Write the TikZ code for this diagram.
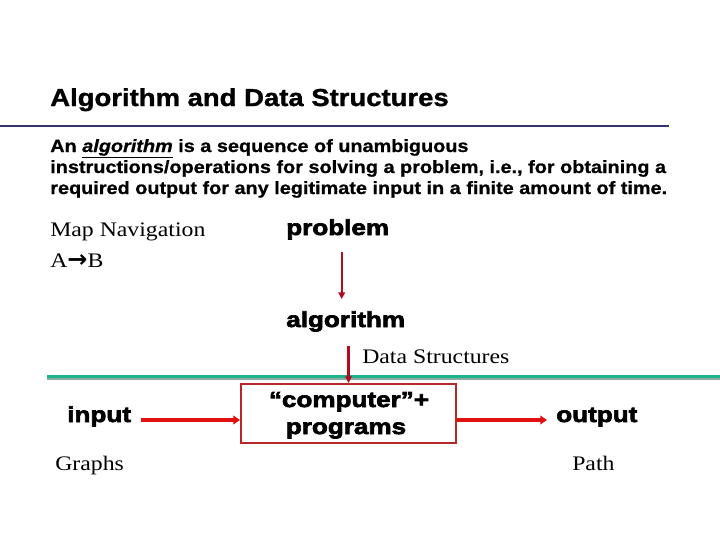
\documentclass[tikz,border=0pt]{standalone}
\usepackage{fontspec}
\usetikzlibrary{calc,arrows.meta}
\newfontfamily\ttl{Liberation Sans}[FakeStretch=1.12,FakeBold=1.2]
\newfontfamily\para{Liberation Sans}[FakeStretch=1.12,FakeBold=0.8]
\newfontfamily\heavy{Liberation Sans}[FakeStretch=1.2,FakeBold=3]
\newfontfamily\ser{Liberation Serif}[FakeStretch=1.15]
\newfontfamily\dv{DejaVu Sans}
\definecolor{navy}{RGB}{51,51,110}
\definecolor{teal}{RGB}{28,180,140}
\definecolor{tealgray}{RGB}{140,170,160}
\definecolor{arrred}{RGB}{225,15,15}
\definecolor{darkred}{RGB}{180,10,30}
\definecolor{boxred}{RGB}{185,40,40}
\begin{document}
\begin{tikzpicture}[x=0.75pt,y=-0.75pt,
  txt/.style={inner sep=0pt,anchor=base west},
  ctxt/.style={inner sep=0pt,anchor=base},
  titlefont/.style={font=\ttl\bfseries\fontsize{18.4}{20}\selectfont},
  parafont/.style={font=\para\bfseries\fontsize{13.3}{15.75}\selectfont},
  heavyfont/.style={font=\heavy\bfseries\fontsize{16.3}{18}\selectfont},
  serfont/.style={font=\ser\fontsize{15.5}{18}\selectfont},
  harrow/.style={arrred,line width=2.8pt,-{Triangle[length=5pt,width=6.5pt]}},
  varrow/.style={darkred,line width=1.6pt,-{Triangle[length=5pt,width=5pt]}},
  procbox/.style={draw=boxred,line width=1.5pt,minimum width=161.25pt,minimum height=44.25pt,inner sep=0pt}
]
\useasboundingbox (0,0) rectangle (720,540);
\fill[white] (0,0) rectangle (720,540);

% title
\node[txt,titlefont] (title) at (50,106) {Algorithm and Data Structures};
\draw[navy,line width=1.5pt] (0,125.5) -- (669,125.5);

% paragraph
\node[txt,parafont] (p1) at (50,152) {An \underline{\textit{algorithm}} is a sequence of unambiguous};
\node[txt,parafont] (p2) at (50,173) {instructions/operations for solving a problem, i.e., for obtaining a};
\node[txt,parafont] (p3) at (50,194) {required output for any legitimate input in a finite amount of time.};

% left labels
\node[txt,serfont] (map) at (50,236) {Map Navigation};
\node[txt,serfont] (ab) at (50,267) {A{\dv\bfseries\fontsize{18}{18}\selectfont →}B};

% flow
\node[txt,heavyfont] (problem) at (286,235) {problem};
\node[txt,heavyfont] (algorithm) at (286,327) {algorithm};
\node[txt,serfont] (ds) at (362,363) {Data Structures};

% green rule
\draw[teal,line width=1.9pt] (47,376.7) -- (720,376.7);
\draw[tealgray,line width=1.4pt] (47,379.4) -- (720,379.4);

\node[procbox] (box) at (348.5,413.5) {};
\node[ctxt,heavyfont] (comp) at (349,407) {“computer”+};
\node[ctxt,heavyfont] (progs) at (346,434) {programs};

\node[txt,heavyfont] (input) at (67,422) {input};
\node[txt,heavyfont] (output) at (556,422) {output};
\node[txt,serfont] (graphs) at (55,470) {Graphs};
\node[txt,serfont] (path) at (572,470) {Path};

% connectors
\draw[varrow] ($(problem.south)+(4,12)$) -- ($(problem.south |- algorithm.north)+(4,-12)$);
\draw[varrow] ($(algorithm.south -| box.north)+(0,14)$) -- (box.north);
\draw[harrow] ($(input.base east)+(10,-2)$) -- ($(box.west |- input.base)+(0,-2)$);
\draw[harrow] ($(box.east |- output.base)+(0,-2)$) -- ($(output.base west)+(-9,-2)$);
\end{tikzpicture}
\end{document}
